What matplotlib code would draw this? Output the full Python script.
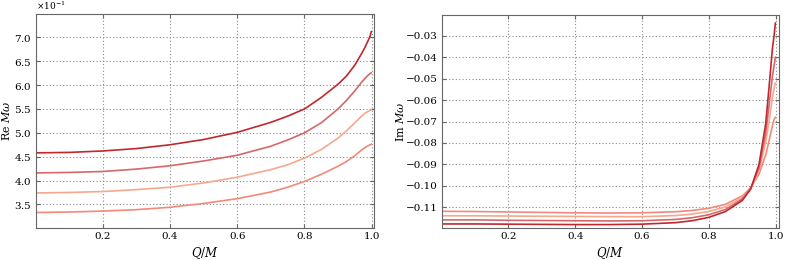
import matplotlib.pyplot as plt
import numpy as np

# ---------------
# ---data--------
# ---------------

q = [0.0, 0.1, 0.2, 0.3, 0.4, 0.5, 0.6, 0.7, 0.75, 0.8, 0.85, 0.9, 0.925, 0.95, 0.97, 0.98, 0.99, 0.995, 0.999]

re_1 = [0.458, 0.459, 0.462, 0.467, 0.475, 0.486, 0.501, 0.522, 0.535, 0.550, 0.574, 0.602, 0.619, 0.642, 0.666, 0.679, 0.694, 0.702, 0.712]
re_2 = [0.416, 0.417, 0.419, 0.424, 0.431, 0.441, 0.453, 0.472, 0.485, 0.500, 0.521, 0.550, 0.568, 0.588, 0.606, 0.614, 0.621, 0.624, 0.626]
re_3 = [0.374, 0.375, 0.377, 0.381, 0.386, 0.395, 0.407, 0.423, 0.433, 0.447, 0.465, 0.489, 0.504, 0.521, 0.535, 0.541, 0.545, 0.547, 0.548]
re_4 = [0.333, 0.334, 0.336, 0.339, 0.344, 0.352, 0.362, 0.376, 0.386, 0.398, 0.413, 0.430, 0.440, 0.452, 0.464, 0.469, 0.473, 0.475, 0.476]

im_1 = [-0.1178, -0.1178, -0.1179, -0.1180, -0.1181, -0.1181, -0.1179, -0.1172, -0.1163, -0.1147, -0.1120, -0.1068, -0.1015, -0.0900, -0.0710, -0.0540, -0.0360, -0.0300, -0.0240]
im_2 = [-0.1159, -0.1159, -0.1161, -0.1162, -0.1163, -0.1164, -0.1163, -0.1157, -0.1149, -0.1135, -0.1110, -0.1062, -0.1013, -0.0915, -0.0755, -0.0625, -0.0490, -0.0440, -0.0400]
im_3 = [-0.1140, -0.1140, -0.1141, -0.1142, -0.1143, -0.1144, -0.1144, -0.1139, -0.1132, -0.1120, -0.1098, -0.1055, -0.1011, -0.0930, -0.0795, -0.0700, -0.0590, -0.0545, -0.0520]
im_4 = [-0.1119, -0.1120, -0.1122, -0.1124, -0.1126, -0.1127, -0.1126, -0.1121, -0.1115, -0.1105, -0.1086, -0.1047, -0.1009, -0.0945, -0.0855, -0.0790, -0.0720, -0.0690, -0.0680]

colors = ['#c0282e', '#d4686b', '#f5a88e', '#f4887a']

# --------------------
# ---setup graphing---
# --------------------

plt.rcParams['font.family'] = 'DejaVu Serif'
plt.rcParams['mathtext.fontset'] = 'dejavuserif'
plt.rcParams['font.size'] = 7.5

fig = plt.figure(figsize=(7.89, 2.6), dpi=100)
ax1 = fig.add_axes([0.0456, 0.123, 0.4284, 0.823])
ax2 = fig.add_axes([0.560, 0.123, 0.427, 0.819])

for ax in (ax1, ax2):
	for s in ax.spines.values():
		s.set_color('#666666')
	ax.grid(True, linestyle=(0, (1, 2)), color='0.55', linewidth=0.8)
	ax.tick_params(direction='in', top=True, right=True, length=3, color='#666666', pad=3)
	ax.set_xticks([0.2, 0.4, 0.6, 0.8, 1.0])
	ax.set_xlabel(r'$Q/M$', fontsize=8.5, labelpad=3)

for y, c in zip([re_1, re_2, re_3, re_4], colors):
	ax1.plot(q, y, color=c, linewidth=1.2)

for y, c in zip([im_4, im_3, im_2, im_1], colors[::-1]):
	ax2.plot(q, y, color=c, linewidth=1.2)

ax1.set_xlim(0.001, 1.007)
ax1.set_ylim(0.3005, 0.749)
ax1.set_yticks(np.arange(0.35, 0.71, 0.05))
ax1.ticklabel_format(axis='y', style='sci', scilimits=(-1, -1), useMathText=True)
ax1.yaxis.get_offset_text().set_fontsize(6.5)
ax1.set_ylabel(r'Re $M\omega$', fontsize=8)
ax1.yaxis.set_label_coords(-0.07, 0.5)

ax2.set_xlim(0.001, 1.009)
ax2.set_ylim(-0.1197, -0.0203)
ax2.set_yticks(np.arange(-0.11, -0.025, 0.01))
ax2.set_ylabel(r'Im $M\omega$', fontsize=8)
ax2.yaxis.set_label_coords(-0.107, 0.5)

fig.savefig('out.png', dpi=100)
